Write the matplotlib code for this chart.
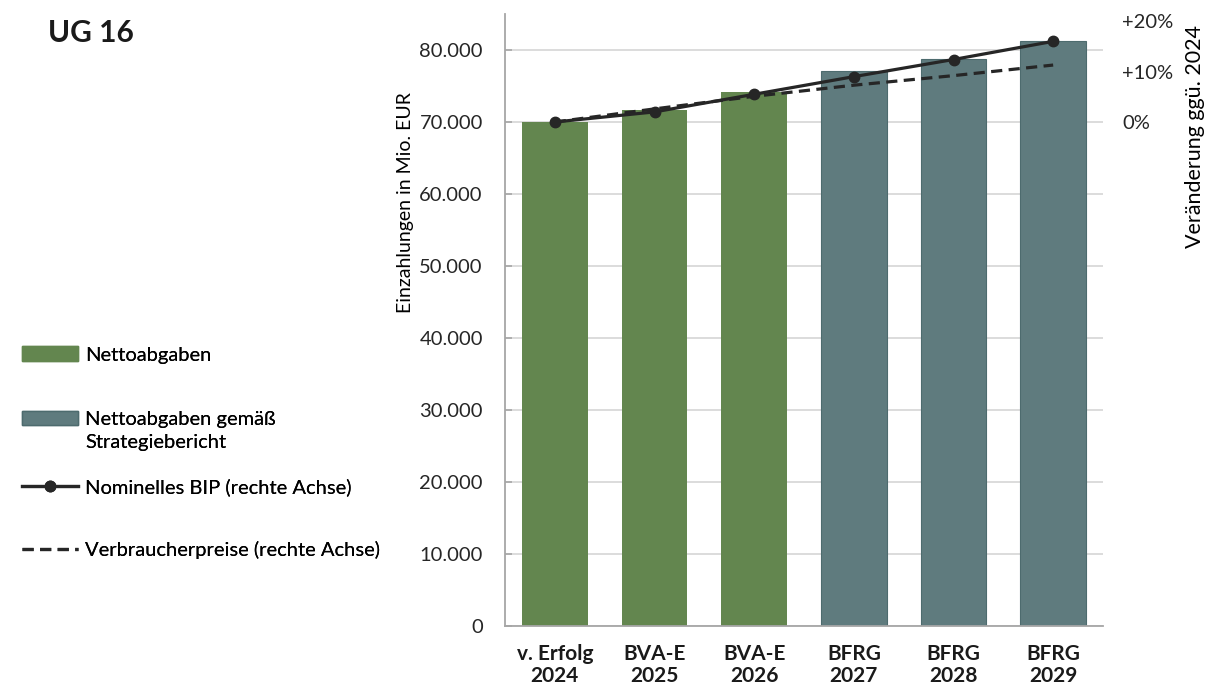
import matplotlib
matplotlib.use("Agg")
import matplotlib.pyplot as plt
from matplotlib.patches import Patch
from matplotlib.lines import Line2D
import numpy as np

plt.rcParams['font.family'] = ['Lato', 'DejaVu Sans']

# Nettoabgaben UG 16 (Mio. EUR)
kategorien = ["v. Erfolg\n2024", "BVA-E\n2025", "BVA-E\n2026",
              "BFRG\n2027", "BFRG\n2028", "BFRG\n2029"]
netto_ist = [70000, 71700, 74200]          # Nettoabgaben
netto_strategie = [77100, 78750, 81250]    # gemäß Strategiebericht
# Veränderung ggü. 2024 in %
bip_nominell = [0.0, 2.0, 5.5, 9.0, 12.4, 16.0]
verbraucherpreise = [0.0, 2.6, 5.1, 7.3, 9.2, 11.3]

GRUEN = "#63864f"
PETROL = "#5f7b7e"
LINIE = "#262626"
GRAU = "#a6a6a6"

fig = plt.figure(figsize=(12.12, 6.89), dpi=100)
ax = fig.add_axes([505 / 1212, 1 - 626 / 689, 598 / 1212, 612 / 689])

x = np.arange(len(kategorien))
n_ist = len(netto_ist)
ax.bar(x[:n_ist], netto_ist, width=0.66, color=GRUEN, zorder=2)
ax.bar(x[n_ist:], netto_strategie, width=0.66, color=PETROL,
       edgecolor="#4d6b6e", linewidth=0.8, zorder=2)

ymax = 85000
ax.set_xlim(-0.5, len(kategorien) - 0.5)
ax.set_ylim(0, ymax)
ax.set_yticks(np.arange(0, 80001, 10000))
ax.set_yticklabels([f"{int(v):,}".replace(",", ".") for v in np.arange(0, 80001, 10000)],
                   fontsize=14.5, color="#262626")
ax.set_xticks(x)
ax.set_xticklabels(kategorien, fontsize=15, fontweight="bold", color="#1a1a1a",
                   linespacing=1.1)
ax.tick_params(axis="x", length=0, pad=13)
ax.tick_params(axis="y", direction="in", length=5, color=GRAU, width=1.2, pad=16)
ax.grid(axis="y", color="#d9d9d9", linewidth=1.3, zorder=0)
for s in ["top", "right"]:
    ax.spines[s].set_visible(False)
for s in ["left", "bottom"]:
    ax.spines[s].set_color(GRAU)
    ax.spines[s].set_linewidth(1.3)

ax.set_ylabel("Einzahlungen in Mio. EUR", fontsize=14, rotation=90,
              ha="center", va="center", rotation_mode="default")
ax.yaxis.set_label_coords((405 - 505) / 598, (626 - 203) / 612)

# rechte Achse: Veränderung relativ zum Wert 2024
ax2 = ax.twinx()
basis = netto_ist[0]
ax2.set_ylim((0 / basis - 1) * 100, (ymax / basis - 1) * 100)
ax2.plot(x, bip_nominell, color=LINIE, linewidth=2.3, marker="o",
         markersize=7.5, zorder=4)
ax2.plot(x, verbraucherpreise, color=LINIE, linewidth=2.3,
         dashes=(3.5, 2), zorder=3)
ax2.set_yticks([0, 10, 20])
ax2.set_yticklabels(["0%", "+10%", "+20%"], fontsize=14.5, color="#262626")
ax2.tick_params(axis="y", length=0, pad=14)
for s in ax2.spines.values():
    s.set_visible(False)
ax2.set_ylabel("Veränderung ggü. 2024", fontsize=15.5, rotation=90,
               ha="center", va="top", rotation_mode="default")
ax2.yaxis.set_label_coords((1195 - 505) / 598, (626 - 25) / 612)

fig.text(48 / 1212, 1 - 33 / 689, "UG 16", fontsize=21.5, fontweight="bold",
         va="center", ha="left", color="#1a1a1a")

# Legende, jeder Eintrag einzeln platziert
leer = Patch(facecolor="none", edgecolor="none")
eintraege = [
    ([Patch(facecolor=GRUEN, edgecolor=GRUEN)], ["Nettoabgaben"], 355),
    ([Patch(facecolor=PETROL, edgecolor="#4d6b6e"), leer],
     ["Nettoabgaben gemäß", "Strategiebericht"], 431),
    ([Line2D([], [], color=LINIE, linewidth=2.3, marker="o", markersize=7.5)],
     ["Nominelles BIP (rechte Achse)"], 487),
    ([Line2D([], [], color=LINIE, linewidth=2.3, dashes=(3.5, 2))],
     ["Verbraucherpreise (rechte Achse)"], 550),
]
for handles, texte, ypix in eintraege:
    leg = fig.legend(handles, texte, loc="center left",
                     bbox_to_anchor=(22 / 1212, 1 - ypix / 689),
                     frameon=False, fontsize=14.5, handlelength=2.8,
                     handletextpad=0.35, borderpad=0, borderaxespad=0,
                     labelspacing=0.3, numpoints=1)
    fig.add_artist(leg)

fig.savefig("out.png", dpi=100)
